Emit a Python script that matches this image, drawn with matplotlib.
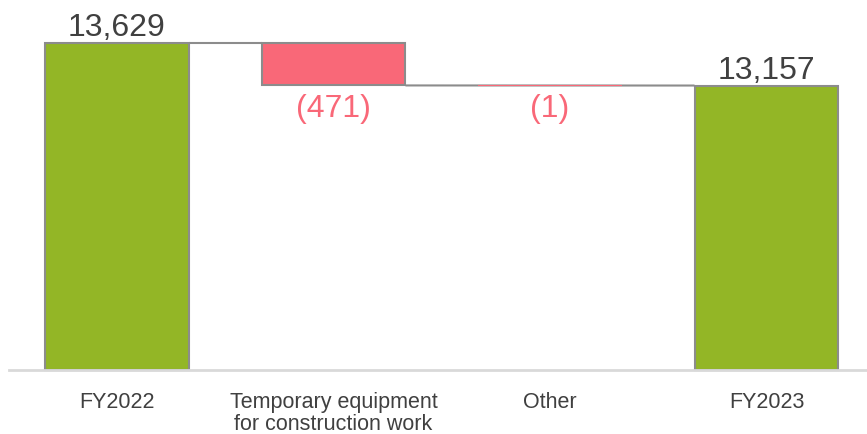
import matplotlib
matplotlib.use("Agg")
import matplotlib.pyplot as plt

categories = ["FY2022", "Temporary equipment\nfor construction work", "Other", "FY2023"]
start_value = 13629
changes = [-471, -1]
end_value = 13157
value_labels = ["13,629", "(471)", "(1)", "13,157"]

plt.rcParams['font.family'] = ['Liberation Sans', 'DejaVu Sans']

W, H = 867, 434
fig = plt.figure(figsize=(W / 100, H / 100), dpi=100)
step = 216.5
c0 = 117
left_px = c0 - 0.5 * step
right_px = c0 + 3.5 * step
base_px = 370
ax = fig.add_axes([left_px / W, (H - base_px) / H, (right_px - left_px) / W, base_px / H])

ymin = 10000
px_per_unit = (370 - 43) / (start_value - ymin)
ymax = ymin + base_px / px_per_unit

green = "#93b626"
red = "#f96878"
edge = "#8c8c8c"
width = 0.665

bottoms, heights, colors, edges = [], [], [], []
bottoms.append(ymin); heights.append(start_value - ymin); colors.append(green); edges.append(edge)
running = start_value
levels = [start_value]
for ch in changes:
    new = running + ch
    bottoms.append(min(running, new)); heights.append(abs(ch)); colors.append(red)
    edges.append(edge if abs(ch) > 10 else 'none')
    running = new
    levels.append(running)
bottoms.append(ymin); heights.append(end_value - ymin); colors.append(green); edges.append(edge)

x = list(range(len(categories)))
ax.bar(x, heights, bottom=bottoms, width=width, color=colors, edgecolor=edges,
       linewidth=1.5, zorder=3, clip_on=False)

# connectors
ax.plot([0 + width / 2, 1 - width / 2], [levels[0], levels[0]],
        color=edge, lw=1.5, zorder=2, solid_capstyle='butt')
ax.plot([1 + width / 2, 3 - width / 2], [levels[1], levels[2]],
        color=edge, lw=1.5, zorder=2, solid_capstyle='butt')

# value labels
ax.annotate(value_labels[0], (0, start_value), xytext=(0, 5), textcoords='offset points',
            ha='center', va='baseline', fontsize=23, color='#404040')
ax.annotate(value_labels[3], (3, end_value), xytext=(0, 5), textcoords='offset points',
            ha='center', va='baseline', fontsize=23, color='#404040')
ax.annotate(value_labels[1], (1, levels[1]), xytext=(0, -6), textcoords='offset points',
            ha='center', va='top', fontsize=23, color=red)
ax.annotate(value_labels[2], (2, levels[2]), xytext=(0, -6), textcoords='offset points',
            ha='center', va='top', fontsize=23, color=red)

ax.set_xlim(-0.5, 3.5)
ax.set_ylim(ymin, ymax)
ax.set_xticks(x)
ax.set_xticklabels(categories, fontsize=15.5, color='#404040', linespacing=1.05)
ax.tick_params(axis='x', length=0, pad=16)
ax.set_yticks([])
for s in ['top', 'right', 'left']:
    ax.spines[s].set_visible(False)
ax.spines['bottom'].set_color('#d9d9d9')
ax.spines['bottom'].set_linewidth(2)
ax.spines['bottom'].set_zorder(4)
ax.patch.set_alpha(0)

fig.savefig("out.png", dpi=100)
